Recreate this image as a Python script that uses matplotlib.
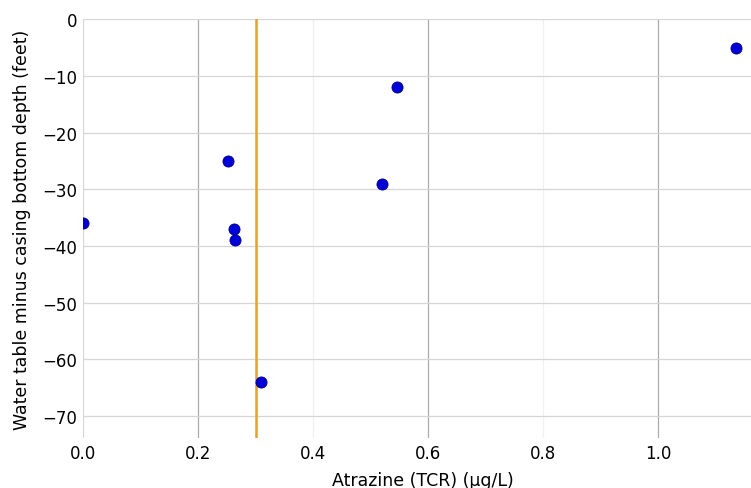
import matplotlib
matplotlib.use("Agg")
import matplotlib.pyplot as plt

atrazine = [0.0, 0.2515, 0.262, 0.264, 0.310, 0.520, 0.545, 1.135]
depth = [-36, -25, -37, -39, -64, -29, -12, -5]
threshold = 0.3
xticks = [0.0, 0.2, 0.4, 0.6, 0.8, 1.0]
yticks = [0, -10, -20, -30, -40, -50, -60, -70]

fig = plt.figure(figsize=(7.51, 4.89), dpi=100)
ax = fig.add_axes([0.1105, 0.102, 0.9055, 0.8565])
ax.set_xlim(0, 1.182)
ax.set_ylim(-73.9, 0)
ax.set_xticks(xticks)
ax.set_yticks(yticks)
ax.set_xticklabels([f"{t:.1f}" for t in xticks])
ax.tick_params(length=0, labelsize=12, pad=4)
for s in ax.spines.values():
    s.set_visible(False)
ax.grid(True, color="#d6d6d6", linewidth=0.9)
ax.set_axisbelow(True)
for i, gl in enumerate(ax.xaxis.get_gridlines()):
    if xticks[i] in (0.4, 0.8):
        gl.set_color("#f0f0f0")
    elif xticks[i] in (0.2, 0.6, 1.0):
        gl.set_color("#ababab")

ax.axvline(threshold, color="#f0a30a", linewidth=1.8, zorder=2)
ax.scatter(atrazine, depth, s=64, color="#0000dd", edgecolor="#00008b",
           linewidth=0.6, zorder=3)

ax.set_xlabel("Atrazine (TCR) (µg/L)", fontsize=12.5, labelpad=7)
ax.set_ylabel("Water table minus casing bottom depth (feet)", fontsize=12.5, labelpad=8)

fig.savefig("out.png", dpi=100)
